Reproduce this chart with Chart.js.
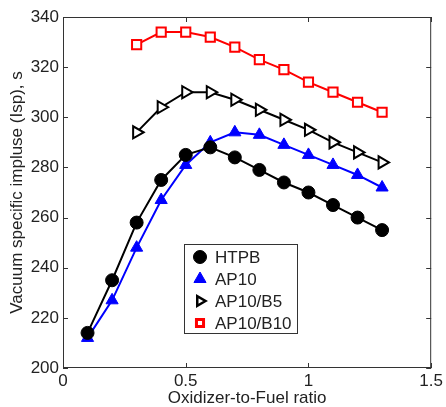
<!DOCTYPE html>
<html>
<head>
<meta charset="utf-8">
<script src="https://cdn.jsdelivr.net/npm/chart.js@4/dist/chart.umd.min.js"></script>
<style>
  html, body { margin: 0; padding: 0; background: #fff; }
</style>
</head>
<body>
<canvas id="ispChart" width="446" height="407"></canvas>
<script>
// O/F ratios for the HTPB and AP10 runs, and for the boron blends
const ofRatio = [0.1, 0.2, 0.3, 0.4, 0.5, 0.6, 0.7, 0.8, 0.9, 1.0, 1.1, 1.2, 1.3];
const ofRatioBoron = [0.3, 0.4, 0.5, 0.6, 0.7, 0.8, 0.9, 1.0, 1.1, 1.2, 1.3];

const htpb = [214, 235, 258, 275, 285, 288, 284, 279, 274, 270, 265, 260, 255];
const ap10 = [212, 227, 248, 267, 281, 290, 294, 293, 289, 285, 281, 277, 272];
const ap10b5 = [294, 304, 310, 310, 307, 303, 299, 295, 290, 286, 282];
const ap10b10 = [329, 334, 334, 332, 328, 323, 319, 314, 310, 306, 302];

const xTicks = [0, 0.5, 1, 1.5];
const yTicks = [200, 220, 240, 260, 280, 300, 320, 340];

const FONT = "'Liberation Sans', Arial, sans-serif";
const TEXT = "#222";

const pts = (xs, ys) => ys.map((y, i) => ({ x: xs[i], y }));

// MATLAB-style box with inward ticks on all four sides
const frameBox = {
  id: "frameBox",
  afterDraw(chart) {
    const { ctx, chartArea: a, scales } = chart;
    const len = 5;
    ctx.save();
    ctx.strokeStyle = "#333";
    ctx.lineWidth = 1;
    ctx.strokeRect(a.left + 0.5, a.top + 0.5, a.right - a.left - 1, a.bottom - a.top - 1);
    ctx.beginPath();
    xTicks.forEach((v) => {
      const x = Math.round(scales.x.getPixelForValue(v)) + 0.5;
      ctx.moveTo(x, a.bottom); ctx.lineTo(x, a.bottom - len);
      ctx.moveTo(x, a.top); ctx.lineTo(x, a.top + len);
    });
    yTicks.forEach((v) => {
      const y = Math.round(scales.y.getPixelForValue(v)) + 0.5;
      ctx.moveTo(a.left, y); ctx.lineTo(a.left + len, y);
      ctx.moveTo(a.right, y); ctx.lineTo(a.right - len, y);
    });
    ctx.stroke();
    ctx.restore();
  }
};

// legend markers are drawn a bit smaller than on the curves
const legendMarks = [
  { radius: 6.5, borderWidth: 1 },
  { radius: 7, borderWidth: 1 },
  { radius: 5.5, borderWidth: 2.5 },
  { radius: 5, borderWidth: 3 }
];

// legend box sitting inside the axes, like the original figure
const boxLegend = {
  id: "boxLegend",
  afterDraw(chart) {
    const { ctx, chartArea: a } = chart;
    const left = a.left + 121, top = a.top + 227;
    const w = 113, h = 89, rowH = 22;
    ctx.save();
    ctx.fillStyle = "#fff";
    ctx.fillRect(left, top, w, h);
    ctx.strokeStyle = "#333";
    ctx.lineWidth = 1;
    ctx.strokeRect(left + 0.5, top + 0.5, w, h);
    ctx.font = "17px " + FONT;
    ctx.textBaseline = "middle";
    chart.data.datasets.forEach((ds, i) => {
      const y = top + 13 + i * rowH;
      const m = legendMarks[i];
      ctx.fillStyle = ds.pointBackgroundColor;
      ctx.strokeStyle = ds.pointBorderColor;
      ctx.lineWidth = m.borderWidth;
      Chart.helpers.drawPoint(ctx, {
        pointStyle: ds.pointStyle,
        rotation: ds.pointRotation || 0,
        radius: m.radius,
        borderWidth: m.borderWidth
      }, left + 16, y);
      ctx.fillStyle = TEXT;
      ctx.fillText(ds.label, left + 31, y + 1);
    });
    ctx.restore();
  }
};

new Chart(document.getElementById("ispChart"), {
  type: "line",
  data: {
    datasets: [
      {
        label: "HTPB",
        data: pts(ofRatio, htpb),
        borderColor: "#000",
        borderWidth: 2,
        pointStyle: "circle",
        pointRadius: 6.5,
        pointBackgroundColor: "#000",
        pointBorderColor: "#000",
        pointBorderWidth: 1
      },
      {
        label: "AP10",
        data: pts(ofRatio, ap10),
        borderColor: "#0000ff",
        borderWidth: 2,
        pointStyle: "triangle",
        pointRadius: 7,
        pointBackgroundColor: "#0000ff",
        pointBorderColor: "#0000ff",
        pointBorderWidth: 1
      },
      {
        label: "AP10/B5",
        data: pts(ofRatioBoron, ap10b5),
        borderColor: "#000",
        borderWidth: 2,
        pointStyle: "triangle",
        pointRotation: 90,
        pointRadius: 7,
        pointBackgroundColor: "#fff",
        pointBorderColor: "#000",
        pointBorderWidth: 2
      },
      {
        label: "AP10/B10",
        data: pts(ofRatioBoron, ap10b10),
        borderColor: "#ff0000",
        borderWidth: 2,
        pointStyle: "rect",
        pointRadius: 6.5,
        pointBackgroundColor: "#fff",
        pointBorderColor: "#ff0000",
        pointBorderWidth: 2
      }
    ]
  },
  options: {
    responsive: false,
    animation: false,
    devicePixelRatio: 1,
    layout: { padding: { top: 17, right: 14, left: 0, bottom: 0 } },
    plugins: { legend: { display: false }, tooltip: { enabled: false } },
    scales: {
      x: {
        type: "linear",
        min: 0,
        max: 1.5,
        afterBuildTicks: (s) => { s.ticks = xTicks.map((v) => ({ value: v })); },
        afterFit: (s) => { s.height = 39; },
        grid: { display: false, drawTicks: false },
        border: { display: false },
        ticks: { color: TEXT, padding: 3, maxRotation: 0, font: { family: FONT, size: 17 }, callback: (v) => String(v) },
        title: { display: true, text: "Oxidizer-to-Fuel ratio", color: TEXT, font: { family: FONT, size: 17, lineHeight: 1 }, padding: { top: 0, bottom: 0 } }
      },
      y: {
        min: 200,
        max: 340,
        afterBuildTicks: (s) => { s.ticks = yTicks.map((v) => ({ value: v })); },
        afterFit: (s) => { s.width = 63; },
        grid: { display: false, drawTicks: false },
        border: { display: false },
        ticks: { color: TEXT, padding: 4, font: { family: FONT, size: 17 }, callback: (v) => String(v) },
        title: { display: true, text: "Vacuum specific impluse (Isp), s", color: TEXT, font: { family: FONT, size: 17, lineHeight: 1 }, padding: { top: 9, bottom: 0 } }
      }
    }
  },
  plugins: [frameBox, boxLegend]
});
</script>
</body>
</html>
